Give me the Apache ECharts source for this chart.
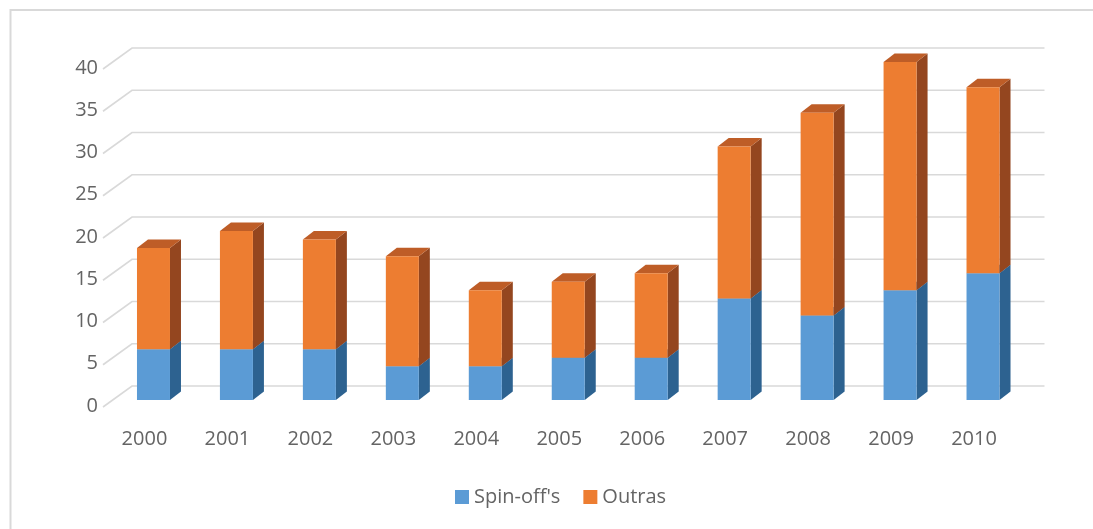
<!DOCTYPE html>
<html>
<head>
<meta charset="utf-8">
<style>
  html, body { margin: 0; padding: 0; background: #ffffff; }
  #chart { width: 1093px; height: 529px; }
</style>
<script src="https://cdn.jsdelivr.net/npm/echarts@6/dist/echarts.min.js"></script>
</head>
<body>
<div id="chart"></div>
<script>
// Companies created per year, split into spin-offs and other origins
const years = ['2000', '2001', '2002', '2003', '2004', '2005', '2006', '2007', '2008', '2009', '2010'];
const spinOffs = [6, 6, 6, 4, 4, 5, 5, 12, 10, 13, 15];
const outras = [12, 14, 13, 13, 9, 9, 10, 18, 24, 27, 22];
const yTicks = [0, 5, 10, 15, 20, 25, 30, 35, 40];

// 3D look: bar depth and wall offsets in pixels
const BAR_W = 33;
const DEPTH_X = 11, DEPTH_Y = 8.5;
const BACK_X = 20, BACK_Y = 14;    // back wall relative to bar plane
const FRONT_X = -9, FRONT_Y = 7;   // front edge relative to bar plane

const TEXT = '#646464';
const FONT = 'Open Sans';
const FONT_SIZE = 20;

const palette = {
  spin: { front: '#5B9BD5', side: '#2D6290', top: '#3F7DB5' },
  outras: { front: '#ED7D31', side: '#94461F', top: '#BE5D27' }
};

function prism(colors) {
  return function (params, api) {
    const i = api.value(0), lo = api.value(1), hi = api.value(2);
    const b = api.coord([i, lo]);
    const t = api.coord([i, hi]);
    const xl = b[0] - BAR_W / 2, xr = b[0] + BAR_W / 2;
    const yb = b[1], yt = t[1];
    return {
      type: 'group',
      children: [
        { type: 'polygon',
          shape: { points: [[xr, yb], [xr + DEPTH_X, yb - DEPTH_Y], [xr + DEPTH_X, yt - DEPTH_Y], [xr, yt]] },
          style: { fill: colors.side } },
        { type: 'polygon',
          shape: { points: [[xl, yt], [xr, yt], [xr + DEPTH_X, yt - DEPTH_Y], [xl + DEPTH_X, yt - DEPTH_Y]] },
          style: { fill: colors.top } },
        { type: 'rect',
          shape: { x: xl, y: yt, width: BAR_W, height: yb - yt },
          style: { fill: colors.front } }
      ]
    };
  };
}

function gridLine(params, api) {
  const cs = params.coordSys;
  const y = api.coord([0, api.value(1)])[1];
  return {
    type: 'polyline',
    shape: { points: [
      [cs.x + FRONT_X, y + FRONT_Y],
      [cs.x + BACK_X, y - BACK_Y],
      [cs.x + cs.width + BACK_X, y - BACK_Y]
    ] },
    style: { stroke: '#D9D9D9', lineWidth: 1.6, fill: null }
  };
}

const chart = echarts.init(document.getElementById('chart'), null, { renderer: 'canvas' });

chart.setOption({
  animation: false,
  backgroundColor: '#ffffff',
  textStyle: { fontFamily: FONT },
  graphic: [{
    type: 'rect',
    shape: { x: 10.5, y: 10, width: 1200, height: 700 },
    style: { fill: null, stroke: '#D9D9D9', lineWidth: 2 },
    silent: true
  }],
  grid: { left: 112, right: 68.5, top: 62, bottom: 129, containLabel: false, outerBoundsMode: 'none' },
  legend: {
    left: 450,
    top: 482,
    itemWidth: 14,
    itemHeight: 14,
    itemGap: 23,
    icon: 'rect',
    textStyle: { color: TEXT, fontSize: FONT_SIZE, fontFamily: FONT },
    data: ["Spin-off's", 'Outras']
  },
  xAxis: {
    type: 'category',
    data: years,
    axisLine: { show: false },
    axisTick: { show: false },
    splitLine: { show: false },
    axisLabel: { color: TEXT, fontSize: FONT_SIZE, fontFamily: FONT, margin: 29, padding: [0, 18, 0, 0] }
  },
  yAxis: {
    type: 'value',
    min: 0,
    max: 40,
    interval: 5,
    axisLine: { show: false },
    axisTick: { show: false },
    splitLine: { show: false },
    axisLabel: {
      color: TEXT, fontSize: FONT_SIZE, fontFamily: FONT, margin: 14,
      verticalAlign: 'top', lineHeight: 12
    }
  },
  series: [
    {
      type: 'custom',
      name: 'grid',
      silent: true,
      z: 1,
      renderItem: gridLine,
      encode: { x: 0, y: 1 },
      data: yTicks.map(v => [0, v])
    },
    {
      type: 'custom',
      name: "Spin-off's",
      z: 2,
      itemStyle: { color: palette.spin.front },
      renderItem: prism(palette.spin),
      encode: { x: 0, y: [1, 2] },
      data: years.map((y, i) => [i, 0, spinOffs[i]])
    },
    {
      type: 'custom',
      name: 'Outras',
      z: 3,
      itemStyle: { color: palette.outras.front },
      renderItem: prism(palette.outras),
      encode: { x: 0, y: [1, 2] },
      data: years.map((y, i) => [i, spinOffs[i], spinOffs[i] + outras[i]])
    }
  ]
});
</script>
</body>
</html>
